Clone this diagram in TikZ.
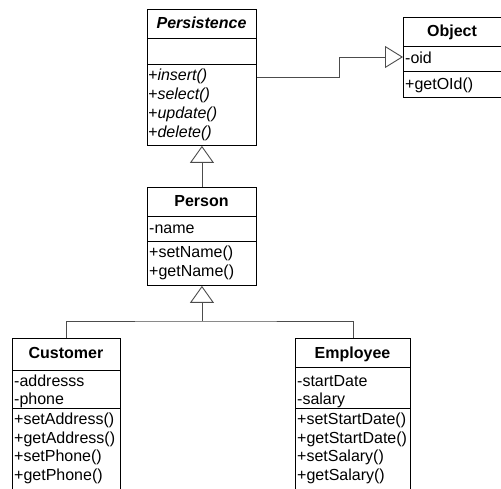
\documentclass[tikz,border=0pt]{standalone}
\usepackage{fontspec}
\setmainfont{Liberation Sans}
\usetikzlibrary{arrows.meta}

\begin{document}
\begin{tikzpicture}[x=1pt,y=1pt,
  every node/.style={font=\fontsize{16}{19}\selectfont},
  classbox/.style={draw=black, line width=0.9pt, rectangle, inner sep=0pt, anchor=north west},
  compsep/.style={draw=black, line width=0.9pt},
  member/.style={anchor=base west, inner sep=0pt},
  abstractmember/.style={member, font=\fontsize{16}{19}\selectfont\itshape},
  ctitle/.style={anchor=base, inner sep=0pt, font=\fontsize{16}{19}\selectfont\bfseries},
  link/.style={draw=black!70, line width=0.8pt},
  gen/.style={link, -{Triangle[open, length=17pt, width=24pt, line width=0.9pt]}},
]
\useasboundingbox (0,0) rectangle (501,-489);
\clip (0,0) rectangle (501,-489);

% ---------- Persistence (abstract) ----------
\node[classbox, minimum width=109pt, minimum height=136pt] (persist) at (147,-9) {};
\draw[compsep] (persist.west |- 0,-38) -- (persist.east |- 0,-38);
\draw[compsep] (persist.west |- 0,-64) -- (persist.east |- 0,-64);
\node[ctitle, font=\fontsize{16}{19}\selectfont\bfseries\itshape] (persistT) at (201.5,-29) {Persistence};
\node[abstractmember] (pm1) at (148,-81) {+insert()};
\node[abstractmember] (pm2) at (148,-100) {+select()};
\node[abstractmember] (pm3) at (148,-119) {+update()};
\node[abstractmember] (pm4) at (148,-138) {+delete()};

% ---------- Object ----------
\node[classbox, minimum width=98pt, minimum height=80pt] (object) at (403,-17) {};
\draw[compsep] (object.west |- 0,-46) -- (object.east |- 0,-46);
\draw[compsep] (object.west |- 0,-71) -- (object.east |- 0,-71);
\node[ctitle] (objectT) at (452,-37) {Object};
\node[member] (om1) at (405,-64) {-oid};
\node[member] (om2) at (405,-90) {+getOId()};

% ---------- Person ----------
\node[classbox, minimum width=109pt, minimum height=98pt] (person) at (147,-187) {};
\draw[compsep] (person.west |- 0,-216) -- (person.east |- 0,-216);
\draw[compsep] (person.west |- 0,-241) -- (person.east |- 0,-241);
\node[ctitle] (personT) at (201.5,-207) {Person};
\node[member] (pa1) at (149,-234) {-name};
\node[member] (pm5) at (149,-258) {+setName()};
\node[member] (pm6) at (149,-277) {+getName()};

% ---------- Customer ----------
\node[classbox, minimum width=108pt, minimum height=170pt] (cust) at (12,-338) {};
\draw[compsep] (cust.west |- 0,-370) -- (cust.east |- 0,-370);
\draw[compsep] (cust.west |- 0,-408) -- (cust.east |- 0,-408);
\node[ctitle] (custT) at (66,-359) {Customer};
\node[member] (ca1) at (14,-386) {-addresss};
\node[member] (ca2) at (14,-404) {-phone};
\node[member] (cm1) at (14,-424) {+setAddress()};
\node[member] (cm2) at (14,-443) {+getAddress()};
\node[member] (cm3) at (14,-461) {+setPhone()};
\node[member] (cm4) at (14,-480) {+getPhone()};

% ---------- Employee ----------
\node[classbox, minimum width=115pt, minimum height=170pt] (emp) at (295,-338) {};
\draw[compsep] (emp.west |- 0,-367) -- (emp.east |- 0,-367);
\draw[compsep] (emp.west |- 0,-408) -- (emp.east |- 0,-408);
\node[ctitle] (empT) at (352.5,-359) {Employee};
\node[member] (ea1) at (297,-386) {-startDate};
\node[member] (ea2) at (297,-404) {-salary};
\node[member] (em1) at (297,-424) {+setStartDate()};
\node[member] (em2) at (297,-443) {+getStartDate()};
\node[member] (em3) at (297,-461) {+setSalary()};
\node[member] (em4) at (297,-480) {+getSalary()};

% ---------- Generalizations ----------
\coordinate (pOut) at (persist.east |- 0,-77);
\coordinate (oIn) at (object.west |- 0,-57);
\draw[gen, -{Triangle[open, length=18pt, width=22pt, line width=0.9pt]}]
  (pOut) -- (339,-77) -- (339,-57) -- (oIn);

\draw[gen] (person.north) -- (persist.south);

\coordinate (junction) at (person.south |- 0,-321);
\draw[link] (cust.north) |- (junction) -| (emp.north);
\draw[gen] (junction) -- (person.south);
\end{tikzpicture}
\end{document}
